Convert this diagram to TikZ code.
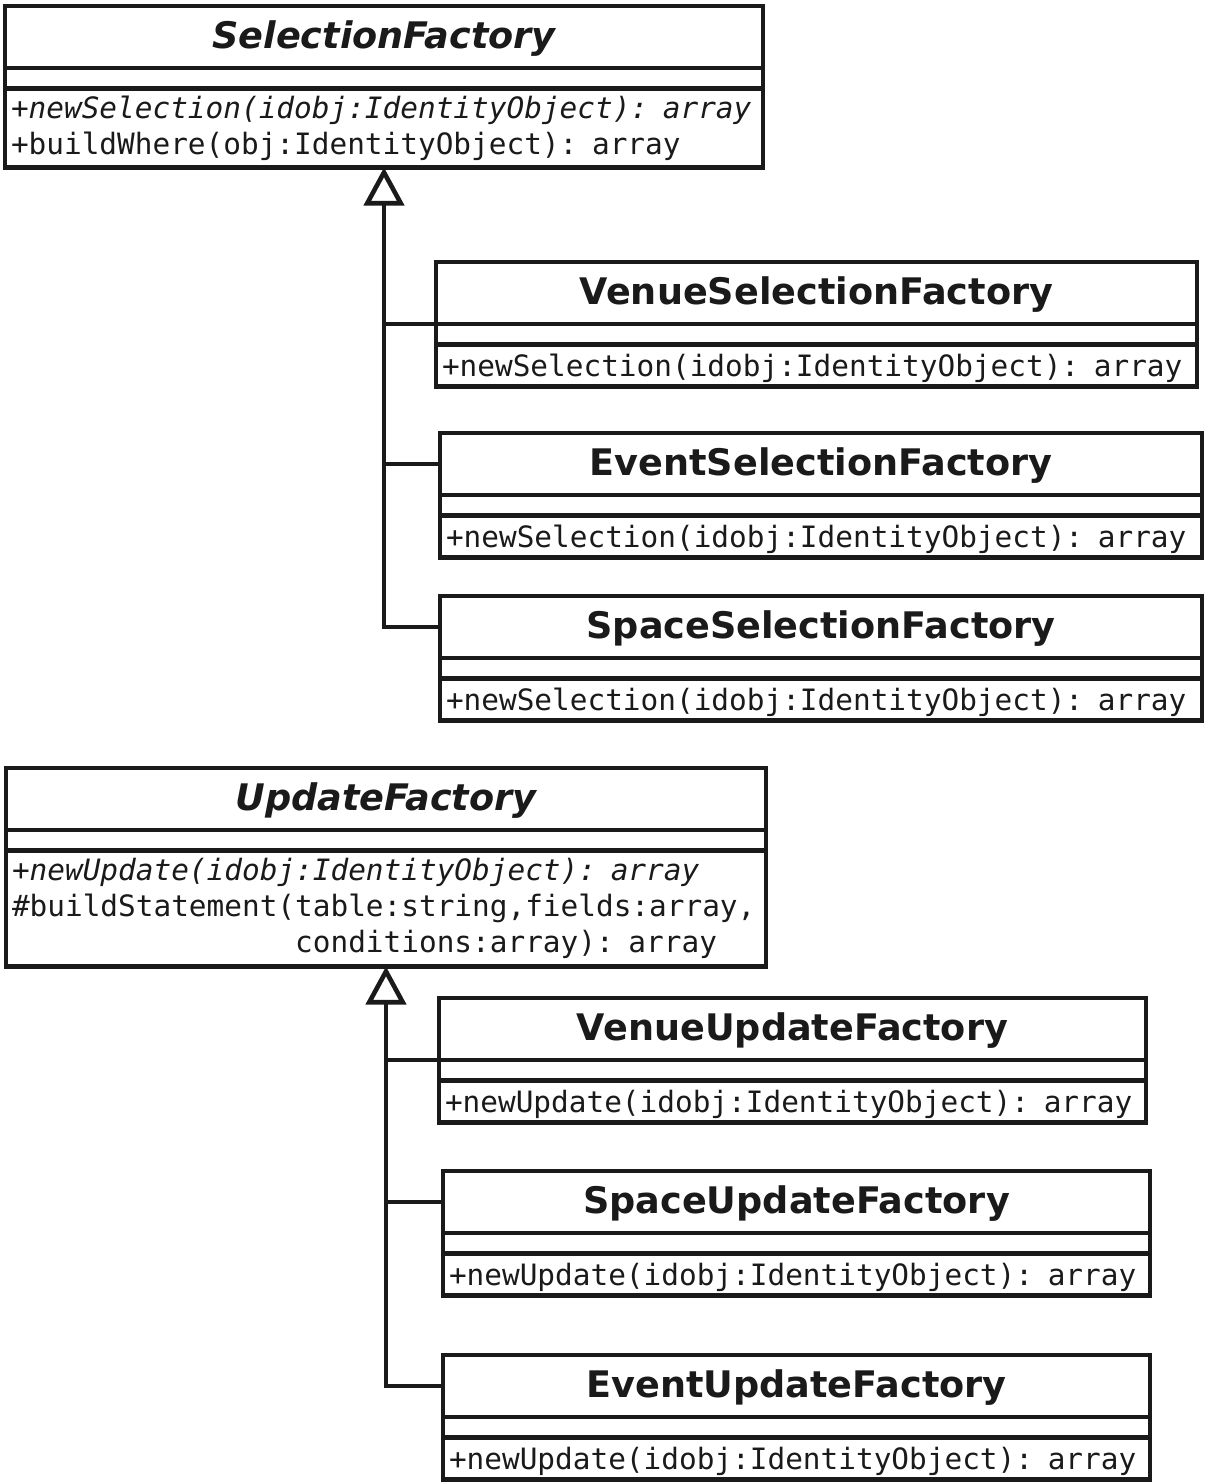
\documentclass[tikz,border=0pt]{standalone}
\usepackage{fontspec}
\setmainfont{DejaVu Sans}
\setmonofont{DejaVu Sans Mono}
\usetikzlibrary{arrows.meta, positioning}
\definecolor{umlink}{RGB}{26,26,26}
\newcommand\clsfont{\fontsize{18.3}{22}\selectfont\bfseries}
\newcommand\opfont{\fontsize{14.7}{18}\selectfont\ttfamily}

\begin{document}
\begin{tikzpicture}[
    x=0.5pt, y=-0.5pt,
    every node/.style={draw=umlink, line width=2.3pt, outer sep=0pt,
                       inner xsep=3pt, inner ysep=0pt, text=umlink},
    clsname/.style={minimum width=#1, minimum height=31pt, anchor=north west,
                    font=\clsfont, text depth=2pt},
    clsattr/.style={minimum width=#1, minimum height=10.25pt},
    clsops/.style={text width=#1, align=left, font=\opfont},
    oneop/.style={clsops=#1, minimum height=21pt, text depth=0.5pt},
    inherit/.style={draw=umlink, line width=2.3pt,
                    -{Triangle[open, length=19pt, width=20pt]}},
    branch/.style={draw=umlink, line width=2.3pt},
  ]
  \useasboundingbox (0,0) rectangle (1209,1484);

  % Selection side
  \node[clsname=379pt] (selname) at (5,6) {\itshape SelectionFactory};
  \node[clsattr=379pt, below=0pt of selname] (selattr) {};
  \node[clsops=373pt, minimum height=39.5pt, below=0pt of selattr] (selops)
    {{\itshape +newSelection(idobj:IdentityObject): array}\\
     +buildWhere(obj:IdentityObject): array};

  \node[clsname=380.5pt] (vselname) at (436,262) {VenueSelectionFactory};
  \node[clsattr=380.5pt, below=0pt of vselname] (vselattr) {};
  \node[oneop=374.5pt, below=0pt of vselattr] (vselops)
    {+newSelection(idobj:IdentityObject): array};

  \node[clsname=381pt] (eselname) at (440,433) {EventSelectionFactory};
  \node[clsattr=381pt, below=0pt of eselname] (eselattr) {};
  \node[oneop=375pt, below=0pt of eselattr] (eselops)
    {+newSelection(idobj:IdentityObject): array};

  \node[clsname=381pt] (sselname) at (440,596) {SpaceSelectionFactory};
  \node[clsattr=381pt, below=0pt of sselname] (sselattr) {};
  \node[oneop=375pt, below=0pt of sselattr] (sselops)
    {+newSelection(idobj:IdentityObject): array};

  % Update side
  \node[clsname=380pt] (updname) at (6,768) {\itshape UpdateFactory};
  \node[clsattr=380pt, below=0pt of updname] (updattr) {};
  \node[clsops=374pt, minimum height=58pt, below=0pt of updattr] (updops)
    {{\itshape +newUpdate(idobj:IdentityObject): array}\\
     \#buildStatement(table:string,fields:array,\\
     \hphantom{\#buildStatement(}conditions:array): array};

  \node[clsname=353.5pt] (vupdname) at (439,998) {VenueUpdateFactory};
  \node[clsattr=353.5pt, below=0pt of vupdname] (vupdattr) {};
  \node[oneop=347.5pt, below=0pt of vupdattr] (vupdops)
    {+newUpdate(idobj:IdentityObject): array};

  \node[clsname=353.5pt] (supdname) at (443,1171) {SpaceUpdateFactory};
  \node[clsattr=353.5pt, below=0pt of supdname] (supdattr) {};
  \node[oneop=347.5pt, below=0pt of supdattr] (supdops)
    {+newUpdate(idobj:IdentityObject): array};

  \node[clsname=353.5pt] (eupdname) at (443,1355) {EventUpdateFactory};
  \node[clsattr=353.5pt, below=0pt of eupdname] (eupdattr) {};
  \node[oneop=347.5pt, below=0pt of eupdattr] (eupdops)
    {+newUpdate(idobj:IdentityObject): array};

  % Generalisation
  \draw[inherit] (sselname.west) -| (selops.south);
  \draw[branch] (eselname.west) -- (eselname.west -| selops.south);
  \draw[branch] (vselname.south west) -- (vselname.south west -| selops.south);

  \draw[inherit] (eupdname.west) -| (updops.south);
  \draw[branch] (supdname.west) -- (supdname.west -| updops.south);
  \draw[branch] (vupdname.south west) -- (vupdname.south west -| updops.south);
\end{tikzpicture}
\end{document}
